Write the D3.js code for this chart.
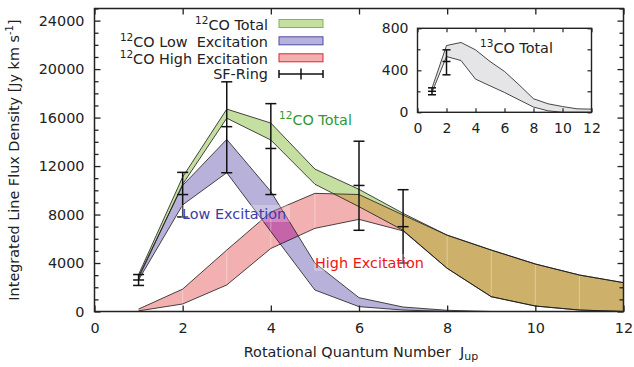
<!DOCTYPE html>
<html>
<head>
<meta charset="utf-8">
<script src="https://d3js.org/d3.v7.min.js"></script>
<style>
  body { margin: 0; background: #fff; }
  svg { font-family: "DejaVu Sans", sans-serif; }
  text { white-space: pre; }
</style>
</head>
<body>
<div id="vis"></div>
<script>
// rotational levels J_up
var J = [1, 2, 3, 4, 5, 6, 7, 8, 9, 10, 11, 12];

// 12CO total band (Jy km/s)
var totLo = [2750, 10500, 15950, 14150, 10500, 8650, 6700, 3560, 1220, 450, 120, 0];
var totHi = [3050, 11100, 16700, 15550, 11750, 10080, 8100, 6300, 5070, 3920, 3010, 2380];
// low excitation component
var lowLo = [2600, 8800, 11450, 6600, 1770, 400, 120, 0, 0, 0, 0, 0];
var lowHi = [2900, 10400, 14200, 9900, 4000, 1140, 370, 100, 0, 0, 0, 0];
// high excitation component
var highLo = [50, 620, 2190, 5200, 6860, 7600, 6650, 3560, 1220, 450, 120, 0];
var highHi = [200, 1850, 5070, 8200, 9750, 9650, 7960, 6300, 5070, 3920, 3010, 2380];

// SF-Ring measurements
var sfJ = [1, 2, 3, 4, 6, 7];
var sfVal = [2600, 9650, 15250, 13450, 10400, 7000];
var sfLo = [2150, 7800, 11450, 9650, 6700, 4000];
var sfHi = [3050, 11480, 18950, 17150, 14050, 10050];

// 13CO total (inset)
var isoLo = [190, 531, 493, 316, 252, 189, 119, 50, 14, 0, 0, 0];
var isoHi = [230, 636, 665, 595, 484, 389, 262, 129, 81, 55, 33, 30];
var isoJ = [1, 2];
var isoVal = [200, 484];
var isoErrLo = [167, 357];
var isoErrHi = [233, 595];

var xTicks = [0, 2, 4, 6, 8, 10, 12];
var yTicks = [0, 4000, 8000, 12000, 16000, 20000, 24000];
var insetYTicks = [0, 400, 800];

var width = 634, height = 367;
var ink = "#222";
var fs = 14.4;
var fmt = d3.format("d");

var svg = d3.select("#vis").append("svg")
    .attr("width", width)
    .attr("height", height);

var x = d3.scaleLinear().domain([0, 12]).range([94.5, 623.5]);
var y = d3.scaleLinear().domain([0, 25000]).range([311.5, 8.5]);

function rows(lo, hi) {
  return J.map(function(j, i) { return {j: j, lo: lo[i], hi: hi[i]}; });
}

var area = d3.area()
    .x(function(d) { return x(d.j); })
    .y0(function(d) { return y(d.lo); })
    .y1(function(d) { return y(d.hi); });
var lineLo = d3.line().x(function(d) { return x(d.j); }).y(function(d) { return y(d.lo); });
var lineHi = d3.line().x(function(d) { return x(d.j); }).y(function(d) { return y(d.hi); });

var tot = rows(totLo, totHi), low = rows(lowLo, lowHi), high = rows(highLo, highHi);

var defs = svg.append("defs");
defs.append("clipPath").attr("id", "clip-tot").append("path").attr("d", area(tot));
defs.append("clipPath").attr("id", "clip-low").append("path").attr("d", area(low));

var bands = svg.append("g");
bands.append("path").attr("d", area(tot)).attr("fill", "#c5dfa1");
bands.append("path").attr("d", area(low)).attr("fill", "#b8b2da");
bands.append("path").attr("d", area(high)).attr("fill", "#f3b0b1");
// overlaps
bands.append("path").attr("d", area(high)).attr("fill", "#cdb06a").attr("clip-path", "url(#clip-tot)");
bands.append("path").attr("d", area(high)).attr("fill", "#c564a8").attr("clip-path", "url(#clip-low)");

// faint polygon seams in the high excitation band
bands.selectAll("line.seam")
    .data(high.filter(function(d) { return d.j > 1 && d.j < 12 && d.hi - d.lo > 300; }))
    .enter().append("line")
    .attr("x1", function(d) { return x(d.j); })
    .attr("x2", function(d) { return x(d.j); })
    .attr("y1", function(d) { return y(d.lo) - 1; })
    .attr("y2", function(d) { return y(d.hi) + 1; })
    .attr("stroke", "#fff")
    .attr("stroke-opacity", 0.45)
    .attr("stroke-width", 0.8);

[tot, low, high].forEach(function(b) {
  bands.append("path").attr("d", lineLo(b)).attr("fill", "none").attr("stroke", "#1a1a1a").attr("stroke-width", 0.8);
  bands.append("path").attr("d", lineHi(b)).attr("fill", "none").attr("stroke", "#1a1a1a").attr("stroke-width", 0.8);
});

// error bars
function errorBars(g, xs, ys, js, v, lo, hi, cap) {
  var e = g.append("g").attr("stroke", "#111").attr("stroke-width", 1.5);
  js.forEach(function(j, i) {
    var cx = xs(j);
    e.append("line").attr("x1", cx).attr("x2", cx).attr("y1", ys(lo[i])).attr("y2", ys(hi[i]));
    [lo[i], hi[i], v[i]].forEach(function(val) {
      e.append("line").attr("x1", cx - cap).attr("x2", cx + cap).attr("y1", ys(val)).attr("y2", ys(val));
    });
  });
}
errorBars(svg, x, y, sfJ, sfVal, sfLo, sfHi, 5.5);

// axes with inward ticks
var minorY = d3.range(0, 25001, 1000).filter(function(v) { return v % 4000 !== 0; });

svg.append("g").attr("transform", "translate(" + x.range()[0] + ",0)")
    .call(d3.axisLeft(y).tickValues(yTicks).tickFormat(fmt).tickSizeInner(-6).tickSizeOuter(0).tickPadding(10));
svg.append("g").attr("transform", "translate(" + x.range()[0] + ",0)")
    .call(d3.axisLeft(y).tickValues(minorY).tickSizeInner(-4).tickSizeOuter(0).tickFormat(""));
svg.append("g").attr("transform", "translate(" + x.range()[1] + ",0)")
    .call(d3.axisRight(y).tickValues(yTicks).tickSizeInner(-6).tickSizeOuter(0).tickFormat(""));
svg.append("g").attr("transform", "translate(" + x.range()[1] + ",0)")
    .call(d3.axisRight(y).tickValues(minorY).tickSizeInner(-4).tickSizeOuter(0).tickFormat(""));
svg.append("g").attr("transform", "translate(0," + y.range()[0] + ")")
    .call(d3.axisBottom(x).tickValues(xTicks).tickFormat(fmt).tickSizeInner(-6).tickSizeOuter(0).tickPadding(11.5));
svg.append("g").attr("transform", "translate(0," + y.range()[1] + ")")
    .call(d3.axisTop(x).tickValues(xTicks).tickSizeInner(-6).tickSizeOuter(0).tickFormat(""));

svg.selectAll(".domain").remove();
svg.selectAll(".tick line").attr("stroke", ink).attr("stroke-width", 1.3);
svg.selectAll(".tick text").attr("font-size", fs).attr("fill", ink).attr("font-family", "DejaVu Sans");

svg.append("rect")
    .attr("x", x.range()[0]).attr("y", y.range()[1])
    .attr("width", x.range()[1] - x.range()[0])
    .attr("height", y.range()[0] - y.range()[1])
    .attr("fill", "none").attr("stroke", ink).attr("stroke-width", 1.5);

// axis titles
var xt = svg.append("text").attr("x", 361).attr("y", 357).attr("text-anchor", "middle")
    .attr("font-size", fs).attr("fill", ink);
xt.append("tspan").text("Rotational Quantum Number  J");
xt.append("tspan").attr("font-size", 11).attr("dy", 3).text("up");

var yt = svg.append("text").attr("transform", "translate(19,160) rotate(-90)")
    .attr("text-anchor", "middle").attr("font-size", fs).attr("fill", ink);
yt.append("tspan").text("Integrated Line Flux Density [Jy km s");
yt.append("tspan").attr("font-size", 10).attr("dy", -6).text("-1");
yt.append("tspan").attr("dy", 6).text("]");

// superscript helper
function isoText(g, px, py, mass, rest, color, anchor) {
  var t = g.append("text").attr("x", px).attr("y", py).attr("font-size", fs)
      .attr("fill", color).attr("text-anchor", anchor || "start");
  t.append("tspan").attr("font-size", 10.5).attr("dy", -6).text(mass);
  t.append("tspan").attr("dy", 6).text(rest);
  return t;
}

// legend
var legendNames = ["CO Total", "CO Low  Excitation", "CO High Excitation"];
var legendFill = ["#c5dfa1", "#b8b2da", "#f3b0b1"];
var legendEdge = ["#7cb94a", "#4b4ba8", "#e0262a"];
var legendBase = [30, 47.3, 64.3];
var leg = svg.append("g");
legendNames.forEach(function(n, i) {
  isoText(leg, 268, legendBase[i], "12", n, ink, "end");
  leg.append("rect").attr("x", 279).attr("y", legendBase[i] - 10.5)
      .attr("width", 44).attr("height", 8)
      .attr("fill", legendFill[i]).attr("stroke", legendEdge[i]).attr("stroke-width", 1);
});
leg.append("text").attr("x", 268).attr("y", 79).attr("text-anchor", "end")
    .attr("font-size", fs).attr("fill", ink).text("SF-Ring");
var ls = leg.append("g").attr("stroke", "#111").attr("stroke-width", 1.5);
ls.append("line").attr("x1", 279).attr("x2", 323).attr("y1", 74).attr("y2", 74);
ls.append("line").attr("x1", 279).attr("x2", 279).attr("y1", 70).attr("y2", 78);
ls.append("line").attr("x1", 323).attr("x2", 323).attr("y1", 70).attr("y2", 78);
ls.append("line").attr("x1", 301).attr("x2", 301).attr("y1", 68.5).attr("y2", 79.5);

// annotations
isoText(svg, 279, 124.5, "12", "CO Total", "#2f9a33");
svg.append("rect").attr("x", 181).attr("y", 205).attr("width", 109).attr("height", 17)
    .attr("fill", "#fff").attr("fill-opacity", 0.25);
svg.append("text").attr("x", 182).attr("y", 218.5).attr("font-size", fs)
    .attr("fill", "#3c3ca8").text("Low Excitation");
svg.append("rect").attr("x", 314).attr("y", 254).attr("width", 113).attr("height", 17)
    .attr("fill", "#fff").attr("fill-opacity", 0.25);
svg.append("text").attr("x", 315).attr("y", 267.5).attr("font-size", fs)
    .attr("fill", "#f01414").text("High Excitation");

// inset: 13CO
var ix = d3.scaleLinear().domain([0, 12]).range([417.5, 591.5]);
var iy = d3.scaleLinear().domain([0, 800]).range([112.3, 28.3]);
var inset = svg.append("g");
inset.append("rect").attr("x", 417.5).attr("y", 28.3).attr("width", 174).attr("height", 84)
    .attr("fill", "#fff");

var iso = J.map(function(j, i) { return {j: j, lo: isoLo[i], hi: isoHi[i]}; });
var iarea = d3.area().x(function(d) { return ix(d.j); })
    .y0(function(d) { return iy(d.lo); }).y1(function(d) { return iy(d.hi); });
inset.append("path").attr("d", iarea(iso)).attr("fill", "#e5e5e7");
inset.append("path").attr("d", d3.line().x(function(d) { return ix(d.j); }).y(function(d) { return iy(d.lo); })(iso))
    .attr("fill", "none").attr("stroke", "#1a1a1a").attr("stroke-width", 0.8);
inset.append("path").attr("d", d3.line().x(function(d) { return ix(d.j); }).y(function(d) { return iy(d.hi); })(iso))
    .attr("fill", "none").attr("stroke", "#1a1a1a").attr("stroke-width", 0.8);
errorBars(inset, ix, iy, isoJ, isoVal, isoErrLo, isoErrHi, 4);

var minorIy = [200, 600];
inset.append("g").attr("transform", "translate(417.5,0)")
    .call(d3.axisLeft(iy).tickValues(insetYTicks).tickFormat(fmt).tickSizeInner(-4).tickSizeOuter(0).tickPadding(9));
inset.append("g").attr("transform", "translate(417.5,0)")
    .call(d3.axisLeft(iy).tickValues(minorIy).tickSizeInner(-3).tickSizeOuter(0).tickFormat(""));
inset.append("g").attr("transform", "translate(591.5,0)")
    .call(d3.axisRight(iy).tickValues(insetYTicks.concat(minorIy)).tickSizeInner(-4).tickSizeOuter(0).tickFormat(""));
inset.append("g").attr("transform", "translate(0,112.3)")
    .call(d3.axisBottom(ix).tickValues(xTicks).tickFormat(fmt).tickSizeInner(-4).tickSizeOuter(0).tickPadding(11));
inset.append("g").attr("transform", "translate(0,28.3)")
    .call(d3.axisTop(ix).tickValues(xTicks).tickSizeInner(-4).tickSizeOuter(0).tickFormat(""));
inset.selectAll(".domain").remove();
inset.selectAll(".tick line").attr("stroke", ink).attr("stroke-width", 1.2);
inset.selectAll(".tick text").attr("font-size", 14).attr("fill", ink).attr("font-family", "DejaVu Sans");
inset.append("rect").attr("x", 417.5).attr("y", 28.3).attr("width", 174).attr("height", 84)
    .attr("fill", "none").attr("stroke", ink).attr("stroke-width", 1.4);
isoText(inset, 480, 52.5, "13", "CO Total", ink);
</script>
</body>
</html>
